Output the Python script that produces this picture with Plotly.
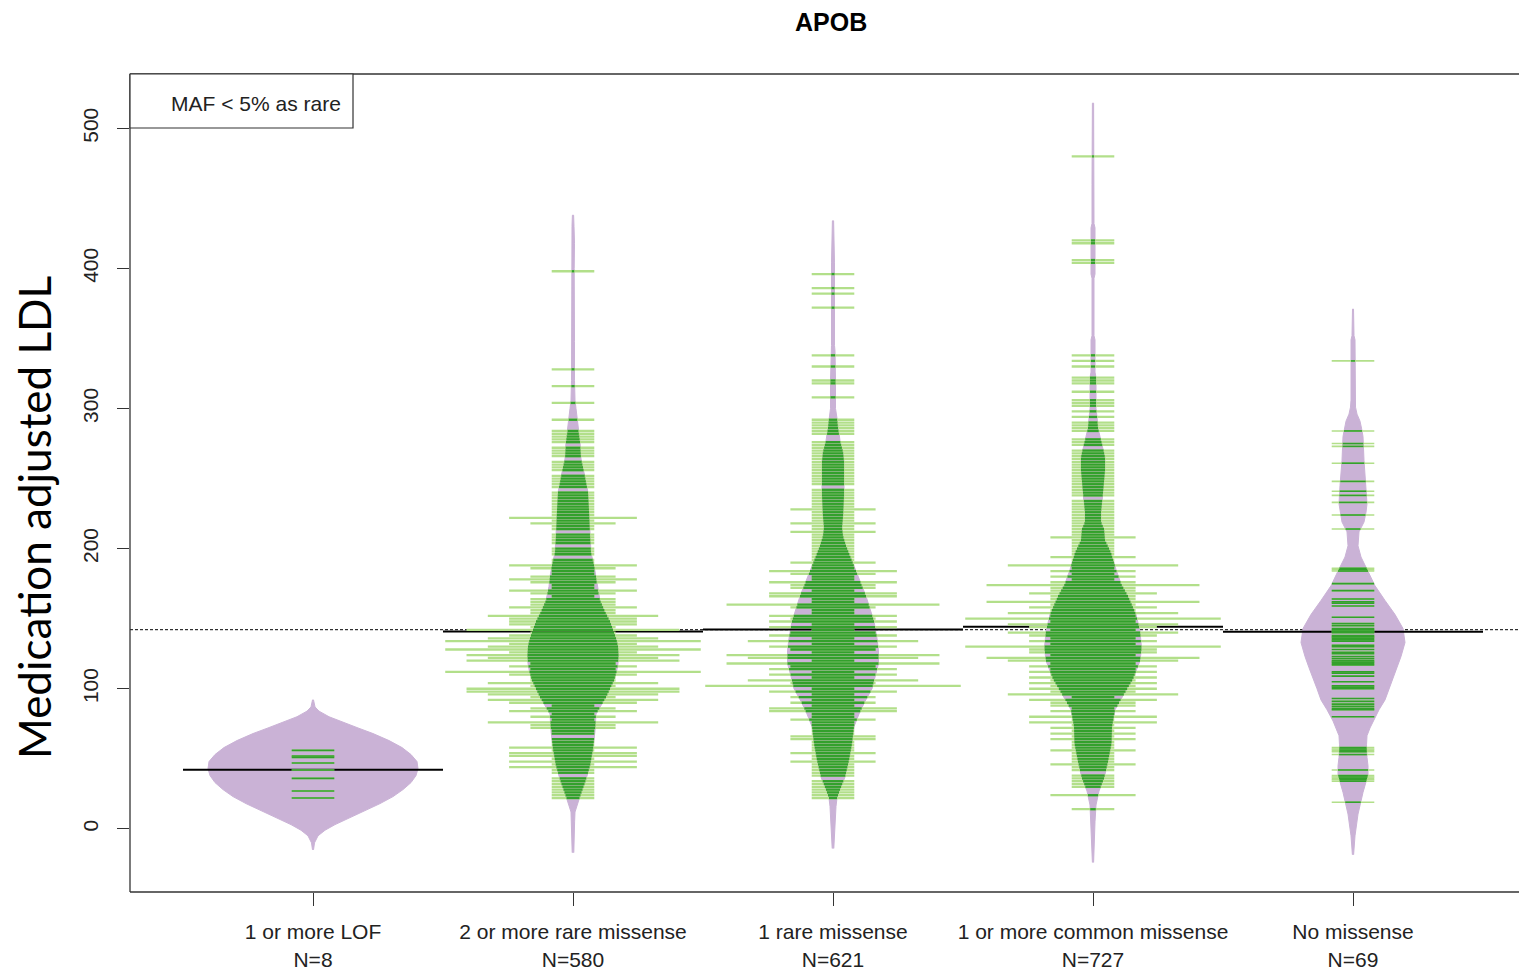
import numpy as np
import plotly.graph_objects as go

# ---------------------------------------------------------------- data
TITLE = "APOB"
Y_TITLE = "Medication adjusted LDL"
NOTE = "MAF &lt; 5% as rare"

categories = ["1 or more LOF", "2 or more rare missense", "1 rare missense",
              "1 or more common missense", "No missense"]
group_n = [8, 580, 621, 727, 69]
group_means = [42.1, 140.8, 142.3, 144.3, 140.6]
y_ticks = [0, 100, 200, 300, 400, 500]

# small groups: every observed value
lof_values = [22, 27, 36, 42, 47, 51, 52, 56]
nomis_values = [19, 34, 35, 36, 37, 38, 42, 53, 55, 56, 57, 58, 80, 85, 86,
                87.5, 89, 91, 93, 100, 101, 102, 105, 109, 111, 112, 117, 118,
                119, 120, 121.5, 123, 125, 126, 128, 130, 131, 134, 135, 136,
                137, 138, 140, 141, 142, 143, 145, 146.5, 151, 159, 161, 162,
                164, 170, 175, 184, 185, 186, 214, 224, 233, 238, 241, 248, 261,
                273, 275, 284, 334]

# large groups: tied observations at each step of a 2 mg/dL grid from 10 to 488
GRID_START = 10
GRID_STEP = 2
rare2_ties = [
    0, 0, 0, 0, 0, 0, 1, 1, 1, 1,   # 10-28
    1, 1, 1, 1, 0, 1, 1, 3, 1, 3,   # 30-48
    1, 3, 3, 1, 3, 1, 1, 1, 0, 1,   # 50-68
    1, 2, 2, 4, 1, 2, 1, 3, 2, 1,   # 70-88
    3, 4, 2, 4, 5, 5, 2, 4, 2, 2,   # 90-108
    3, 6, 2, 3, 2, 5, 4, 5, 3, 6,   # 110-128
    4, 3, 6, 4, 3, 2, 5, 2, 3, 3,   # 130-148
    3, 4, 2, 2, 3, 2, 2, 2, 1, 2,   # 150-168
    3, 1, 1, 2, 3, 2, 1, 1, 2, 3,   # 170-188
    1, 1, 0, 1, 1, 1, 0, 1, 1, 1,   # 190-208
    1, 0, 1, 1, 2, 1, 3, 1, 1, 1,   # 210-228
    1, 1, 1, 1, 1, 1, 0, 1, 1, 1,   # 230-248
    1, 1, 0, 1, 1, 1, 1, 0, 1, 1,   # 250-268
    1, 1, 0, 1, 1, 1, 1, 1, 0, 0,   # 270-288
    0, 1, 0, 0, 0, 0, 0, 1, 0, 0,   # 290-308
    0, 0, 0, 1, 0, 0, 0, 0, 0, 1,   # 310-328
    0, 0, 0, 0, 0, 0, 0, 0, 0, 0,   # 330-348
    0, 0, 0, 0, 0, 0, 0, 0, 0, 0,   # 350-368
    0, 0, 0, 0, 0, 0, 0, 0, 0, 0,   # 370-388
    0, 0, 0, 0, 1, 0, 0, 0, 0, 0,   # 390-408
    0, 0, 0, 0, 0, 0, 0, 0, 0, 0,   # 410-428
    0, 0, 0, 0, 0, 0, 0, 0, 0, 0,   # 430-448
    0, 0, 0, 0, 0, 0, 0, 0, 0, 0,   # 450-468
    0, 0, 0, 0, 0, 0, 0, 0, 0, 0,   # 470-488
]
rare1_ties = [
    0, 0, 0, 0, 0, 0, 1, 1, 1, 1,   # 10-28
    1, 1, 1, 0, 1, 1, 1, 1, 1, 2,   # 30-48
    1, 1, 2, 1, 1, 1, 1, 2, 2, 1,   # 50-68
    1, 1, 1, 1, 2, 1, 1, 3, 3, 1,   # 70-88
    2, 1, 2, 1, 3, 1, 6, 2, 4, 1,   # 90-108
    3, 1, 3, 2, 5, 1, 4, 5, 1, 2,   # 110-128
    3, 1, 4, 1, 3, 2, 1, 3, 1, 3,   # 130-148
    2, 3, 1, 1, 2, 5, 1, 1, 3, 3,   # 150-168
    1, 2, 2, 3, 1, 1, 2, 3, 1, 1,   # 170-188
    2, 1, 1, 1, 1, 1, 1, 1, 1, 1,   # 190-208
    1, 2, 1, 1, 2, 1, 1, 1, 1, 2,   # 210-228
    1, 1, 1, 1, 1, 1, 1, 0, 1, 1,   # 230-248
    1, 1, 1, 1, 1, 1, 1, 1, 1, 1,   # 250-268
    1, 1, 1, 1, 0, 0, 1, 1, 1, 1,   # 270-288
    1, 1, 0, 0, 0, 0, 0, 0, 0, 1,   # 290-308
    0, 0, 0, 0, 1, 1, 0, 0, 0, 0,   # 310-328
    1, 0, 0, 0, 1, 0, 0, 0, 0, 0,   # 330-348
    0, 0, 0, 0, 0, 0, 0, 0, 0, 0,   # 350-368
    0, 1, 0, 0, 0, 0, 1, 0, 1, 0,   # 370-388
    0, 0, 0, 1, 0, 0, 0, 0, 0, 0,   # 390-408
    0, 0, 0, 0, 0, 0, 0, 0, 0, 0,   # 410-428
    0, 0, 0, 0, 0, 0, 0, 0, 0, 0,   # 430-448
    0, 0, 0, 0, 0, 0, 0, 0, 0, 0,   # 450-468
    0, 0, 0, 0, 0, 0, 0, 0, 0, 0,   # 470-488
]
common_ties = [
    0, 0, 1, 0, 0, 0, 0, 2, 0, 0,   # 10-28
    1, 1, 1, 1, 1, 0, 1, 1, 2, 1,   # 30-48
    1, 1, 1, 2, 1, 1, 1, 2, 1, 2,   # 50-68
    1, 2, 1, 3, 1, 3, 1, 2, 1, 2,   # 70-88
    2, 3, 1, 4, 2, 3, 2, 3, 2, 3,   # 90-108
    2, 3, 2, 3, 2, 4, 5, 2, 3, 3,   # 110-128
    6, 2, 3, 2, 3, 4, 2, 3, 4, 2,   # 130-148
    6, 2, 4, 2, 3, 2, 5, 2, 2, 3,   # 150-168
    2, 2, 5, 2, 1, 2, 1, 2, 1, 4,   # 170-188
    1, 1, 2, 1, 1, 1, 1, 1, 1, 2,   # 190-208
    1, 1, 1, 1, 1, 1, 1, 1, 1, 1,   # 210-228
    1, 1, 1, 0, 1, 1, 1, 1, 1, 1,   # 230-248
    1, 1, 1, 1, 1, 1, 1, 1, 1, 1,   # 250-268
    1, 0, 1, 1, 1, 0, 0, 1, 1, 1,   # 270-288
    1, 0, 1, 0, 1, 0, 1, 1, 1, 0,   # 290-308
    0, 1, 0, 0, 1, 1, 1, 0, 0, 0,   # 310-328
    1, 0, 1, 0, 1, 0, 0, 0, 0, 0,   # 330-348
    0, 0, 0, 0, 0, 0, 0, 0, 0, 0,   # 350-368
    0, 0, 0, 0, 0, 0, 0, 0, 0, 0,   # 370-388
    0, 0, 0, 0, 0, 0, 0, 1, 1, 0,   # 390-408
    0, 0, 0, 0, 1, 1, 0, 0, 0, 0,   # 410-428
    0, 0, 0, 0, 0, 0, 0, 0, 0, 0,   # 430-448
    0, 0, 0, 0, 0, 0, 0, 0, 0, 0,   # 450-468
    0, 0, 0, 0, 0, 1, 0, 0, 0, 0,   # 470-488
]

# bean outlines: LDL value and kernel density (relative units)
lof_dens_v = [-15, -10, -5, -1, 3, 8, 13, 18, 23, 28, 33, 38, 43, 48, 53, 58,
              63, 68, 72, 76, 80, 84, 87, 92]
lof_dens = [0.5, 1.5, 5, 12, 22, 37, 52, 67, 80, 90, 98, 103, 105, 104, 98,
            89, 76, 60, 45, 30, 16, 6, 2, 0.5]

rare2_dens_v = [-17, -5, 5, 12, 21, 33, 45, 57, 70, 82, 88, 94, 100, 106, 112,
                118, 124, 130, 135, 140, 148, 155, 163, 173, 180, 188, 197, 209,
                227, 240, 251, 258, 264, 276, 286, 294, 300, 306, 320, 348, 382,
                400, 418, 430, 438]
rare2_dens = [0.8, 1.2, 1.6, 2, 6, 12, 17, 20, 22, 23, 28, 33, 37, 41, 43.5,
              45, 45.5, 45, 43.5, 41, 37, 32, 27, 24, 23, 21, 18, 17,
              16, 15, 12, 10, 8, 7, 5, 4, 3, 2, 1.5, 1.5, 1.5,
              1.2, 1.5, 1, 0.6]

rare1_dens_v = [-14, 0, 10, 16, 22, 28, 37, 49, 61, 73, 82, 91, 100, 109, 118,
                127, 136, 148, 157, 166, 175, 184, 193, 202, 209, 215, 223, 238,
                254, 262, 269, 277, 286, 293, 300, 320, 341, 345, 404, 420, 434]
rare1_dens = [0.8, 1.5, 2.5, 3, 4, 7, 12, 16, 19, 21, 26, 32, 39, 42, 45.5,
              45.5, 44, 41, 37, 33, 28, 23, 18, 13, 10, 9, 10, 11,
              11, 11, 10, 7, 5, 4, 2.5, 2.5, 2, 1.5, 1.5, 1, 0.6]

common_dens_v = [-24, -10, 5, 17, 27, 36, 48, 61, 73, 85, 95, 107, 120, 129,
                 141, 153, 166, 175, 185, 197, 206, 214, 219, 226, 233, 240,
                 248, 256, 265, 272, 280, 286, 294, 300, 322, 326, 349, 352,
                 393, 396, 429, 432, 460, 518]
common_dens = [0.6, 1.2, 2, 3, 6, 11, 15, 18.5, 19, 22, 30, 40, 47, 48.5,
               47, 43, 35, 28, 23, 18, 12, 11, 8, 8, 9, 10,
               11, 12, 12, 10, 7, 5, 4, 3, 3, 2, 2, 1,
               1, 2, 2, 1, 1, 0.6]

nomis_dens_v = [-18.5, -5, 10.5, 26, 38.5, 45, 51, 60, 66.5, 72, 77, 85, 92,
                100, 107, 115, 123, 133, 143, 153, 163, 173.5, 184, 194, 202,
                212, 219, 226, 232, 245, 263, 280, 286, 291, 296, 301, 306,
                349, 352, 360, 371]
nomis_dens = [0.6, 2, 5, 10, 15, 15, 14, 13.5, 14, 17, 20, 26, 32,
              36, 40, 44, 48, 52, 50, 42, 32, 22, 15, 8, 5,
              6, 11, 13, 14, 13, 11, 10, 8.5, 7, 4, 2.5, 2,
              2, 1, 1, 0.5]

# ---------------------------------------------------------------- styling
BEAN_FILL = "#CAB2D6"
LINE_INSIDE = "#33A02C"
LINE_OUTSIDE = "#B2DF8A"
FRAME = "#333333"
TEXT = "#222222"
FONT = "Liberation Sans, Arial, sans-serif"

DENS_TO_X = 1 / 260.0      # density unit -> category units
TIE_HALF = 0.0819          # half line length added per tied observation
LINE_W_SINGLE = 1.6        # groups drawn value by value
LINE_W_GRID = 2.3          # groups drawn on the 2 mg/dL grid
X_RANGE = [0.29615, 5.63846]


def grid_values(ties):
    return [GRID_START + GRID_STEP * i for i in range(len(ties))]


def tie_counts(values):
    uniq, cnt = np.unique(values, return_counts=True)
    return list(uniq), list(cnt)


groups = [
    (*tie_counts(lof_values), lof_dens_v, lof_dens, LINE_W_SINGLE),
    (grid_values(rare2_ties), rare2_ties, rare2_dens_v, rare2_dens, LINE_W_GRID),
    (grid_values(rare1_ties), rare1_ties, rare1_dens_v, rare1_dens, LINE_W_GRID),
    (grid_values(common_ties), common_ties, common_dens_v, common_dens,
     LINE_W_GRID),
    (*tie_counts(nomis_values), nomis_dens_v, nomis_dens, LINE_W_SINGLE),
]

fig = go.Figure()

# overall mean, dotted across the whole panel
overall = float(np.average(group_means, weights=group_n))
fig.add_trace(go.Scatter(x=X_RANGE, y=[overall, overall],
                         mode="lines", hoverinfo="skip",
                         line=dict(color="black", width=1, dash="3px,2px")))

# bean shapes
for i, (_, _, dv, dw, _) in enumerate(groups):
    c = i + 1
    dv = np.asarray(dv, float)
    hw = np.asarray(dw, float) * DENS_TO_X
    xs = np.concatenate([c - hw, (c + hw)[::-1]])
    ys = np.concatenate([dv, dv[::-1]])
    fig.add_trace(go.Scatter(x=xs, y=ys, mode="lines", fill="toself",
                             fillcolor=BEAN_FILL, hoverinfo="skip",
                             line=dict(color=BEAN_FILL, width=1)))

# group means
mx, my = [], []
for i, m in enumerate(group_means):
    c = i + 1
    mx += [c - 0.5, c + 0.5, None]
    my += [m, m, None]
fig.add_trace(go.Scatter(x=mx, y=my, mode="lines", hoverinfo="skip",
                         line=dict(color="black", width=2)))

# bean lines: full length in light green, part inside the bean in dark green
inner_traces = []
for i, (vals, ties, dv, dw, lw) in enumerate(groups):
    c = i + 1
    ox, oy, ix, iy = [], [], [], []
    for v, k in zip(vals, ties):
        if k <= 0:
            continue
        half = k * TIE_HALF
        inside = min(half, float(np.interp(v, dv, dw)) * DENS_TO_X)
        ox += [c - half, c + half, None]
        oy += [v, v, None]
        ix += [c - inside, c + inside, None]
        iy += [v, v, None]
    fig.add_trace(go.Scatter(x=ox, y=oy, mode="lines", hoverinfo="skip",
                             line=dict(color=LINE_OUTSIDE, width=lw)))
    inner_traces.append(go.Scatter(x=ix, y=iy, mode="lines", hoverinfo="skip",
                                   line=dict(color=LINE_INSIDE, width=lw)))
for tr in inner_traces:
    fig.add_trace(tr)

ticktext = [f"{c}<br>N={n}" for c, n in zip(categories, group_n)]

fig.update_layout(
    width=1519, height=971,
    margin=dict(l=130, r=0, t=74, b=79),
    paper_bgcolor="white", plot_bgcolor="white",
    showlegend=False,
    font=dict(family=FONT, size=21, color=TEXT),
    xaxis=dict(range=X_RANGE, tickvals=[1, 2, 3, 4, 5], automargin=False,
               ticktext=ticktext, ticks="outside", ticklen=13, tickwidth=1.3,
               tickcolor=FRAME, showgrid=False, zeroline=False, showline=False,
               tickfont=dict(size=21), ticklabelstandoff=8),
    yaxis=dict(range=[-45.1, 538.8], tickvals=y_ticks, tickangle=-90,
               automargin=False,
               ticks="outside", ticklen=12, tickwidth=1.3, tickcolor=FRAME,
               showgrid=False, zeroline=False, showline=False,
               ticklabelstandoff=11),
    shapes=[
        dict(type="line", xref="paper", yref="paper", x0=0, x1=0, y0=0, y1=1,
             line=dict(color=FRAME, width=1.3)),
        dict(type="line", xref="paper", yref="paper", x0=0, x1=1, y0=1, y1=1,
             line=dict(color=FRAME, width=1.3)),
        dict(type="line", xref="paper", yref="paper", x0=0, x1=1, y0=0, y1=0,
             line=dict(color=FRAME, width=1.3)),
        dict(type="rect", xref="paper", yref="paper", x0=0, x1=0.16055,
             y0=0.93399, y1=1, line=dict(color=FRAME, width=1.2),
             fillcolor="white", layer="above"),
    ],
    annotations=[
        dict(text=f"<b>{TITLE}</b>", xref="paper", yref="paper", x=0.5047,
             y=1.0636, xanchor="center", yanchor="middle", showarrow=False,
             font=dict(family=FONT, size=25, color="black")),
        dict(text=NOTE, xref="paper", yref="paper", x=0.0281, y=0.9645,
             xanchor="left", yanchor="middle", showarrow=False,
             font=dict(family=FONT, size=21, color=TEXT)),
        dict(text=Y_TITLE, xref="paper", yref="paper", x=-0.0691, y=0.4572,
             xanchor="center", yanchor="middle", textangle=-90,
             showarrow=False, font=dict(family="Lato, sans-serif", size=44,
                                         color="black")),
    ],
)

fig.write_html("out.html")
